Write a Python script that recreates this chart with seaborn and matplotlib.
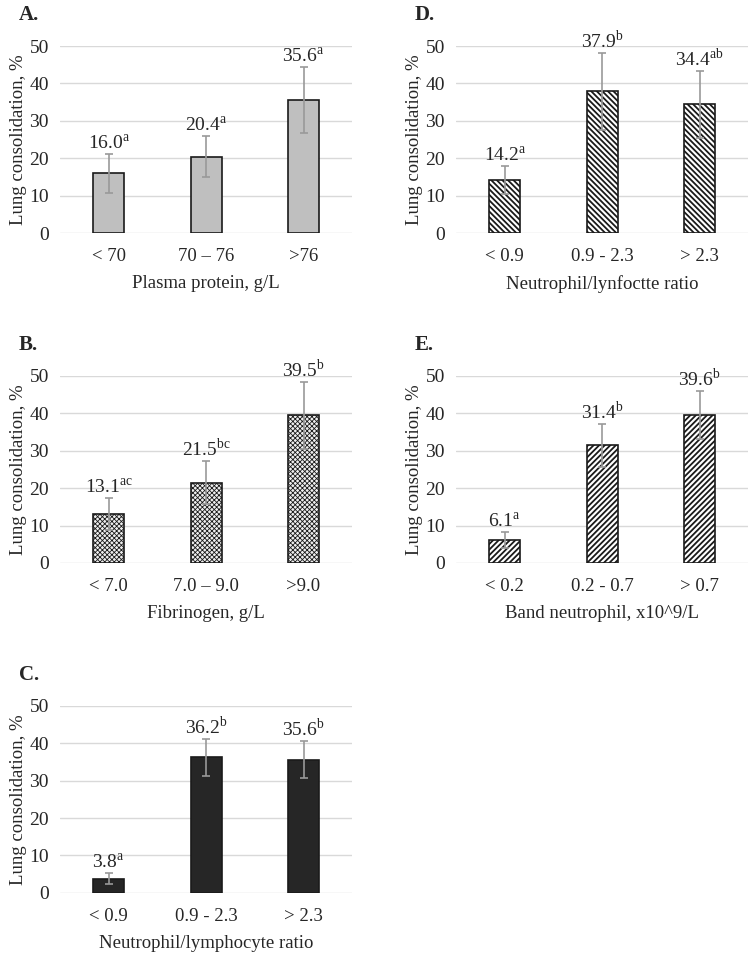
import matplotlib
matplotlib.use("Agg")
import matplotlib.pyplot as plt
import seaborn as sns

sns.set_style("white")
plt.rcParams['font.family'] = ['Liberation Serif', 'DejaVu Serif']
plt.rcParams['mathtext.fontset'] = 'custom'
plt.rcParams['mathtext.rm'] = 'Liberation Serif'

# data
cats_a = ['< 70', '70 – 76', '>76']
vals_a = [16.0, 20.4, 35.6]
err_a = [5.2, 5.5, 8.8]
sup_a = ['a', 'a', 'a']

cats_b = ['< 7.0', '7.0 – 9.0', '>9.0']
vals_b = [13.1, 21.5, 39.5]
err_b = [4.3, 5.8, 9.0]
sup_b = ['ac', 'bc', 'b']

cats_c = ['< 0.9', '0.9 - 2.3', '> 2.3']
vals_c = [3.8, 36.2, 35.6]
err_c = [1.5, 4.9, 5.0]
sup_c = ['a', 'b', 'b']

cats_d = ['< 0.9', '0.9 - 2.3', '> 2.3']
vals_d = [14.2, 37.9, 34.4]
err_d = [3.7, 10.3, 8.9]
sup_d = ['a', 'b', 'ab']

cats_e = ['< 0.2', '0.2 - 0.7', '> 0.7']
vals_e = [6.1, 31.4, 39.6]
err_e = [2.2, 5.7, 6.5]
sup_e = ['a', 'b', 'b']

TXT = '#262626'


def panel(rect, letter, cats, vals, errs, sups, xlabel, face, hatch=None, hlw=1.0):
    ax = fig.add_axes(rect)
    plt.rcParams['hatch.linewidth'] = hlw
    sns.barplot(x=cats, y=vals, ax=ax, color=face, width=0.32,
                edgecolor='#1a1a1a', linewidth=1.2, saturation=1, zorder=3)
    if hatch:
        for p in ax.patches:
            p.set_hatch(hatch)
    ax.errorbar(range(len(vals)), vals, yerr=errs, fmt='none', ecolor='#999999',
                elinewidth=1.2, capsize=3, capthick=1.2, zorder=4)
    for i, (v, e, s) in enumerate(zip(vals, errs, sups)):
        ax.text(i, v + e + 0.2, f'{v:.1f}' + r'$^{\mathrm{' + s + '}}$',
                ha='center', va='bottom', fontsize=14, color=TXT, zorder=5)
    ax.set_ylim(0, 50)
    ax.set_xlim(-0.5, 2.5)
    ax.set_yticks(range(0, 51, 10))
    ax.yaxis.grid(True, color='#d9d9d9', linewidth=1)
    ax.set_axisbelow(True)
    for sp in ax.spines.values():
        sp.set_visible(False)
    ax.tick_params(axis='x', length=0, labelsize=13.5, colors=TXT, pad=11)
    ax.tick_params(axis='y', length=0, labelsize=14, colors=TXT, pad=8)
    ax.set_ylabel('Lung consolidation, %', fontsize=13.5, color=TXT, labelpad=2)
    ax.set_xlabel(xlabel, fontsize=13.5, color=TXT, labelpad=7)
    ax.text(-0.14, 1.165, letter, transform=ax.transAxes, fontsize=15,
            fontweight='bold', color=TXT, ha='left', va='center')
    return ax


fig = plt.figure(figsize=(7.55, 9.59), dpi=100)

panel([0.0795, 0.757, 0.387, 0.195], 'A.', cats_a, vals_a, err_a, sup_a,
      'Plasma protein, g/L', '#bfbfbf')
panel([0.604, 0.757, 0.387, 0.195], 'D.', cats_d, vals_d, err_d, sup_d,
      'Neutrophil/lynfoctte ratio', 'white', '\\' * 6, 1.3)
panel([0.0795, 0.413, 0.387, 0.195], 'B.', cats_b, vals_b, err_b, sup_b,
      'Fibrinogen, g/L', '#eeeeee', 'x' * 7, 0.6)
panel([0.604, 0.413, 0.387, 0.195], 'E.', cats_e, vals_e, err_e, sup_e,
      'Band neutrophil, x10^9/L', 'white', '/' * 6, 1.3)
panel([0.0795, 0.069, 0.387, 0.195], 'C.', cats_c, vals_c, err_c, sup_c,
      'Neutrophil/lymphocyte ratio', '#262626')

fig.savefig('out.png', dpi=100, facecolor='white')
